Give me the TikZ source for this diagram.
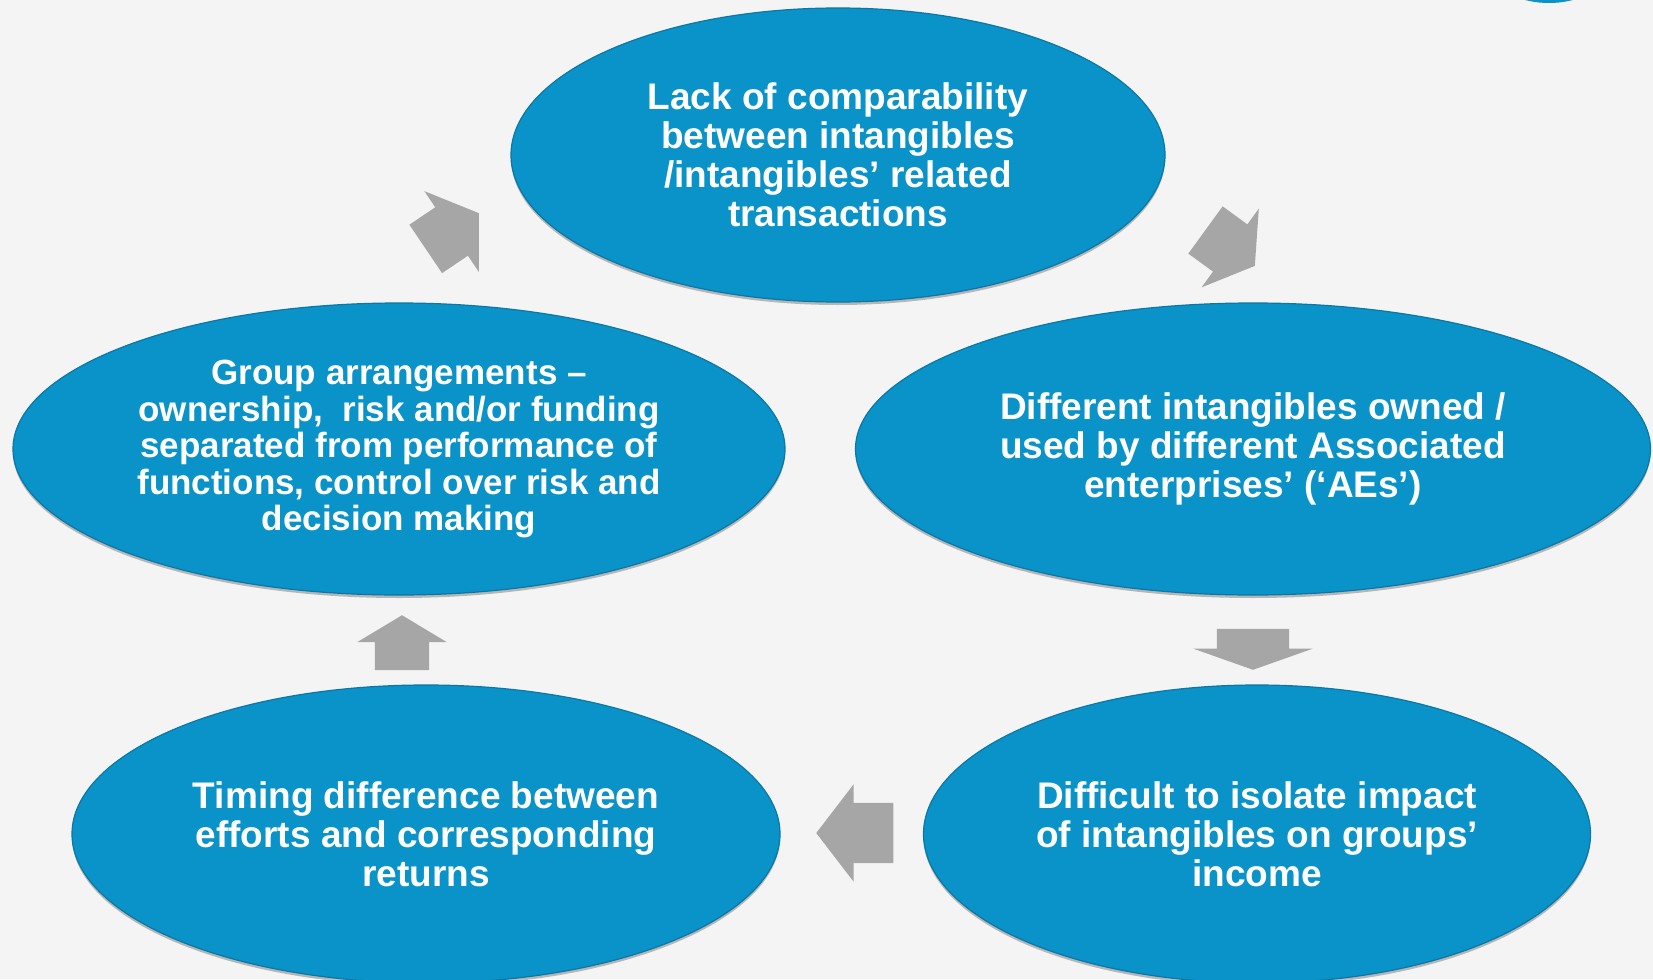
\documentclass[tikz,border=0pt]{standalone}
\usepackage{fontspec}
\setmainfont{Liberation Sans}
\usetikzlibrary{shapes.geometric,shapes.arrows,shadows}

\definecolor{bubblefill}{HTML}{0993C8}
\definecolor{bubbleedge}{HTML}{0A77A6}
\definecolor{arrowgray}{HTML}{A6A6A6}
\definecolor{pagegray}{HTML}{F4F4F4}

\begin{document}
\begin{tikzpicture}[
x=1pt, y=-1pt,
bubble/.style={ellipse, fill=bubblefill, draw=bubbleedge, line width=1.2pt, inner sep=2pt, align=center, text=white,
  font=\fontsize{37}{39}\selectfont\bfseries,
  drop shadow={shadow xshift=0pt, shadow yshift=-3pt, opacity=0.25, fill=black}},
flowarrow/.style={single arrow, fill=arrowgray, draw=none, inner sep=0pt, text depth=0pt, anchor=tip}
]
\useasboundingbox (0,0) rectangle (1653,979);
\clip (0,0) rectangle (1653,979);
\fill[pagegray] (0,0) rectangle (1653,979);
% piece of a shape above the page
\fill[bubblefill] (1549,-93) circle (96pt);

\node[bubble, minimum width=654pt, minimum height=294pt] (lack) at (838,155)
  {Lack of comparability\\between intangibles\\/intangibles’ related\\transactions};
\node[bubble, minimum width=795pt, minimum height=292pt] (owned) at (1253,449)
  {Different intangibles owned /\\used by different Associated\\enterprises’ (‘AEs’)};
\node[bubble, minimum width=667pt, minimum height=298pt] (isolate) at (1257,834)
  {Difficult to isolate impact\\of intangibles on groups’\\income};
\node[bubble, minimum width=708pt, minimum height=298pt] (timing) at (426,834)
  {Timing difference between\\efforts and corresponding\\returns};
\node[bubble, minimum width=772pt, minimum height=292pt, font=\fontsize{35}{36.5}\selectfont\bfseries] (group) at (399,449)
  {Group arrangements –\\ownership,~ risk and/or funding\\separated from performance of\\functions, control over risk and\\decision making};

\node[flowarrow, rotate=-36, minimum height=61pt, text height=58pt, single arrow head extend=19.5pt, single arrow tip angle=116] (lack-owned) at (1255,266) {};
\node[flowarrow, rotate=-90, minimum height=41pt, text height=72pt, single arrow head extend=23.5pt, single arrow tip angle=141] (owned-isolate) at (1253,670) {};
\node[flowarrow, rotate=180, minimum height=77pt, text height=60pt, single arrow head extend=18.5pt, single arrow tip angle=105] (isolate-timing) at (816,833) {};
\node[flowarrow, rotate=90, minimum height=55pt, text height=54pt, single arrow head extend=17.5pt, single arrow tip angle=118] (timing-group) at (402,615) {};
\node[flowarrow, rotate=34, minimum height=64pt, text height=58pt, single arrow head extend=19.5pt, single arrow tip angle=112] (group-lack) at (479,213) {};
\end{tikzpicture}
\end{document}
